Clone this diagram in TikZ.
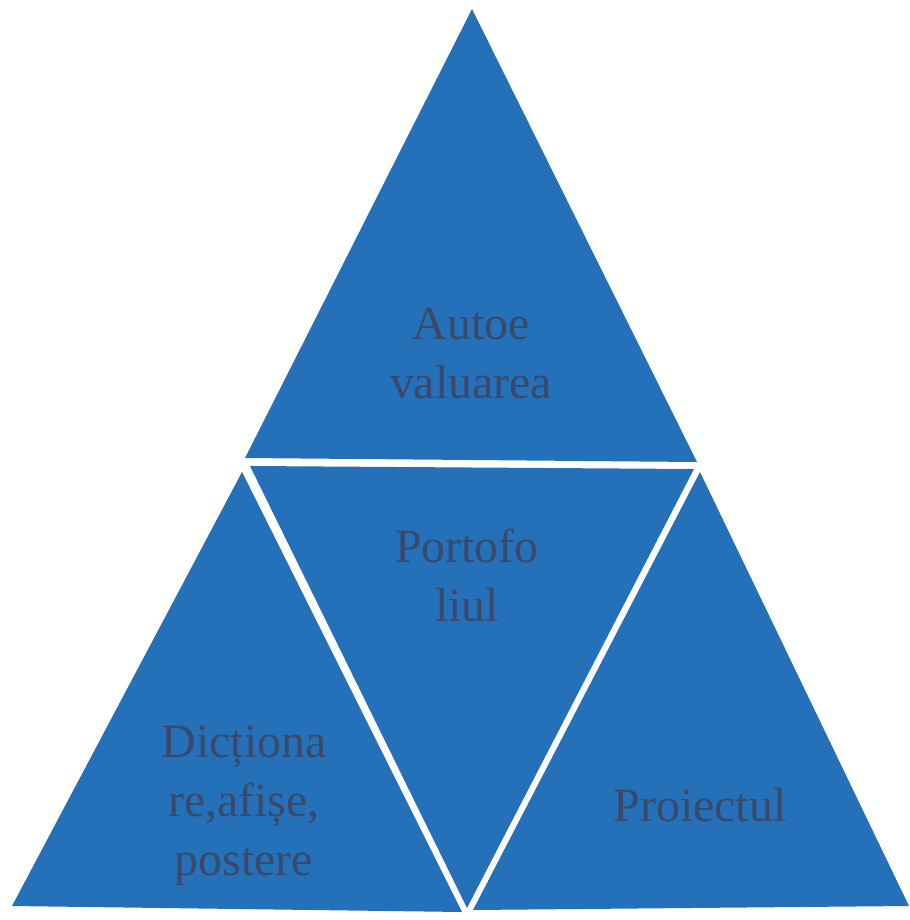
\documentclass[tikz,border=0pt]{standalone}
\usepackage{fontspec}
\setmainfont{Liberation Serif}
\usetikzlibrary{positioning}
\definecolor{pyrblue}{RGB}{36,113,186}
\definecolor{pyrtext}{RGB}{58,72,106}
\newcommand\piece[3]{
  \fill[pyrblue] #1 -- #2 -- #3 -- cycle;
}

\begin{document}
\begin{tikzpicture}[x=0.025cm,y=-0.025cm,
  piecetext/.style={text=pyrtext,align=center,inner sep=0pt,
    font=\fontsize{34}{42}\selectfont}]
  \useasboundingbox (0,0) rectangle (909,920);
  %
  \piece{(472,9)}{(245,458)}{(697,462)}
  \piece{(250,466)}{(694,469)}{(467,908)}
  \piece{(242,472)}{(12,906)}{(462,912)}
  \piece{(700,472)}{(473,910)}{(909,906)}

  \node[piecetext] (autoevaluare) at (471,353) {Autoe\\valuarea};
  \node[piecetext] (portofoliu) at (467,575) {Portofo\\liul};
  \node[piecetext] (dictionare) at (244,806) {Dicționa\\re,afișe,\\postere};
  \node[piecetext] (proiect) at (700,805) {Proiectul};

\end{tikzpicture}
\end{document}
